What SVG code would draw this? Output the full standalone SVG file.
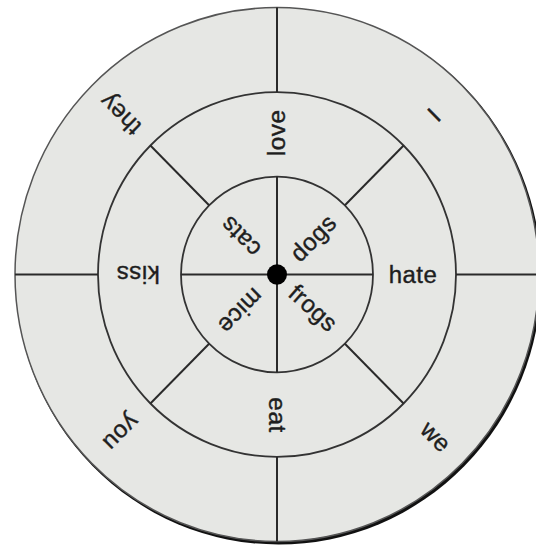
<svg xmlns="http://www.w3.org/2000/svg" width="536" height="550" viewBox="0 0 536 550">
  <style>
    .ring { fill: none; stroke: #333; stroke-width: 1.8; }
    .conn line { stroke: #2a2a2a; stroke-width: 2; }
    .lbl { font-family: "Liberation Sans", Arial, sans-serif; font-size: 24px; fill: #1e1e1e; stroke: #1e1e1e; stroke-width: 0.4; text-anchor: middle; letter-spacing: 0.5px; }
  </style>
  <rect x="0" y="0" width="536" height="550" fill="#ffffff"/>
  <g transform="translate(277,274.5) scale(1,1.019)">
    <g id="wheel">
      <circle cx="1.5" cy="2" r="263" fill="#111"/>
      <circle cx="0" cy="0" r="262" fill="#e6e7e4" stroke="#555" stroke-width="1.5"/>
      <circle class="ring" cx="0" cy="0" r="179"/>
      <circle class="ring" cx="0" cy="0" r="96"/>
    </g>
    <g id="connectors" class="conn">
      <line x1="0" y1="-262" x2="0" y2="-179"/>
      <line x1="0" y1="-96" x2="0" y2="96"/>
      <line x1="0" y1="179" x2="0" y2="262"/>
      <line x1="-262" y1="0" x2="-179" y2="0"/>
      <line x1="-96" y1="0" x2="96" y2="0"/>
      <line x1="179" y1="0" x2="262" y2="0"/>
      <line x1="67.9" y1="-67.9" x2="126.6" y2="-126.6"/>
      <line x1="67.9" y1="67.9" x2="126.6" y2="126.6"/>
      <line x1="-67.9" y1="67.9" x2="-126.6" y2="126.6"/>
      <line x1="-67.9" y1="-67.9" x2="-126.6" y2="-126.6"/>
    </g>
    <g id="hub"><circle cx="0" cy="0" r="10" fill="#000"/></g>
    <g id="inner-labels">
      <g id="dogs" transform="rotate(-45) translate(51,0)"><text class="lbl" dy="0.35em">dogs</text></g>
      <g id="frogs" transform="rotate(42) translate(49,0)"><text class="lbl" dy="0.35em">frogs</text></g>
      <g id="mice" transform="rotate(135) translate(51,0)"><text class="lbl" dy="0.35em">mice</text></g>
      <g id="cats" transform="rotate(-135) translate(52,0)"><text class="lbl" dy="0.35em">cats</text></g>
    </g>
    <g id="middle-labels">
      <g id="hate" transform="rotate(0) translate(136,0)"><text class="lbl" dy="0.35em">hate</text></g>
      <g id="eat" transform="rotate(90) translate(138,0)"><text class="lbl" dy="0.35em">eat</text></g>
      <g id="kiss" transform="rotate(180) translate(139,0)"><text class="lbl" dy="0.35em">kiss</text></g>
      <g id="love" transform="rotate(-90) translate(139,0)"><text class="lbl" dy="0.35em">love</text></g>
    </g>
    <g id="outer-labels">
      <g id="I" transform="rotate(-45) translate(222,0)"><text class="lbl" dy="0.35em">I</text></g>
      <g id="we" transform="rotate(45) translate(225,0)"><text class="lbl" dy="0.35em">we</text></g>
      <g id="you" transform="rotate(135) translate(220,0)"><text class="lbl" dy="0.35em">you</text></g>
      <g id="they" transform="rotate(-135) translate(222,0)"><text class="lbl" dy="0.35em">they</text></g>
    </g>
  </g>
</svg>
